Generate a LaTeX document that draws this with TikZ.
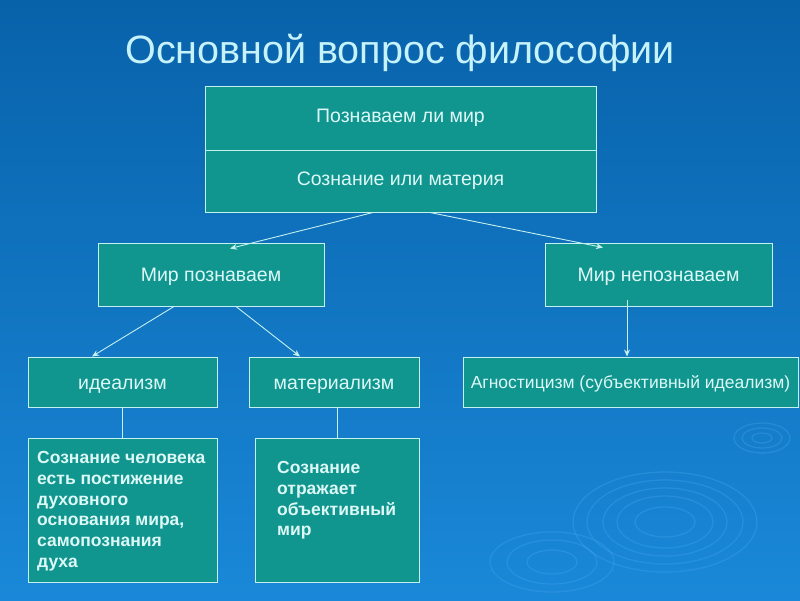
\documentclass[tikz,border=0pt]{standalone}
\usepackage{fontspec}
\setmainfont{Liberation Sans}
\usetikzlibrary{arrows.meta,calc}
\definecolor{bgtop}{HTML}{0862AA}
\definecolor{bgbot}{HTML}{1A88D8}
\definecolor{ripple}{HTML}{49AAF2}
\definecolor{boxfill}{HTML}{10968F}
\definecolor{boxline}{HTML}{C4F0EE}
\definecolor{boxtext}{HTML}{DDF8F6}
\definecolor{titletext}{HTML}{C6F2FA}
\tikzset{
  box/.style={draw=boxline, fill=boxfill, line width=1pt, rectangle, inner sep=0pt,
    text=boxtext, font=\fontsize{19.5}{23}\selectfont, text height=14pt, text depth=0pt},
  conn/.style={draw=boxline, line width=0.9pt},
  arr/.style={conn, -{Stealth[length=7pt,width=6pt]}},
  bodytext/.style={text=boxtext, font=\fontsize{17.5}{20.8}\selectfont\bfseries, align=left, inner sep=0pt, anchor=north west}
}
\begin{document}
\begin{tikzpicture}[x=1pt,y=-1pt]
\shade[top color=bgtop, bottom color=bgbot] (0,0) rectangle (800,600);
\useasboundingbox (0,0) rectangle (800,600);
% faint ripples
\begin{scope}[draw=ripple, opacity=0.3, line width=1.3pt]
\draw (665,522) ellipse (30 and 15);
\draw (665,522) ellipse (48 and 26);
\draw (665,522) ellipse (62 and 34);
\draw (665,522) ellipse (78 and 42);
\draw (665,522) ellipse (92 and 50);
\draw (762,438) ellipse (10 and 5);
\draw (762,438) ellipse (20 and 10);
\draw (762,438) ellipse (28 and 15);
\draw (552,562) ellipse (25 and 12);
\draw (552,562) ellipse (45 and 22);
\draw (552,562) ellipse (62 and 30);
\end{scope}
\node[text=titletext, font=\fontsize{39.5}{44}\selectfont] (title) at (400,53) {Основной вопрос философии};
% top box
\node[box, minimum width=391pt, minimum height=64pt, text height=9pt] (q1) at (400.5,118) {Познаваем ли мир};
\node[box, minimum width=391pt, minimum height=62pt, text height=9pt] (q2) at (400.5,181) {Сознание или материя};
% level 2
\node[box, minimum width=226pt, minimum height=63pt] (mp) at (211,274.5) {Мир познаваем};
\node[box, minimum width=227pt, minimum height=63pt] (mn) at (658.5,274.5) {Мир непознаваем};
% level 3
\node[box, minimum width=189pt, minimum height=50pt] (ideal) at (122.5,382) {идеализм};
\node[box, minimum width=170pt, minimum height=50pt] (mat) at (334,382) {материализм};
\node[box, minimum width=335pt, minimum height=50pt, font=\fontsize{17.5}{21}\selectfont, text height=12.5pt] (agn) at (630.5,382) {Агностицизм (субъективный идеализм)};
% level 4
\node[box, minimum width=189pt, minimum height=144pt] (t1) at (122.5,510) {};
\node[box, minimum width=164pt, minimum height=144pt] (t2) at (337,510) {};
\node[bodytext] (t1txt) at (37,451) {Сознание человека\\есть постижение\\духовного\\основания мира,\\самопознания\\духа};
\node[bodytext] (t2txt) at (277,461) {Сознание\\отражает\\объективный\\мир};
% connectors
\draw[arr] ([xshift=-27.5pt]q2.south) -- ([xshift=19pt, yshift=-6pt]mp.north);
\draw[arr] ([xshift=29.5pt]q2.south) -- ([xshift=-55.5pt, yshift=-5pt]mn.north);
\draw[arr] ([xshift=-37pt]mp.south) -- ([xshift=-30.5pt]ideal.north);
\draw[arr] ([xshift=25pt]mp.south) -- ([xshift=-34pt]mat.north);
\draw[arr] ([xshift=-31.5pt, yshift=7pt]mn.south) -- ([xshift=-3.5pt]agn.north);
\draw[conn] (ideal.south) -- (ideal.south |- t1.north);
\draw[conn] ([xshift=3pt]mat.south) -- ([xshift=3pt]mat.south |- t2.north);
\end{tikzpicture}
\end{document}
